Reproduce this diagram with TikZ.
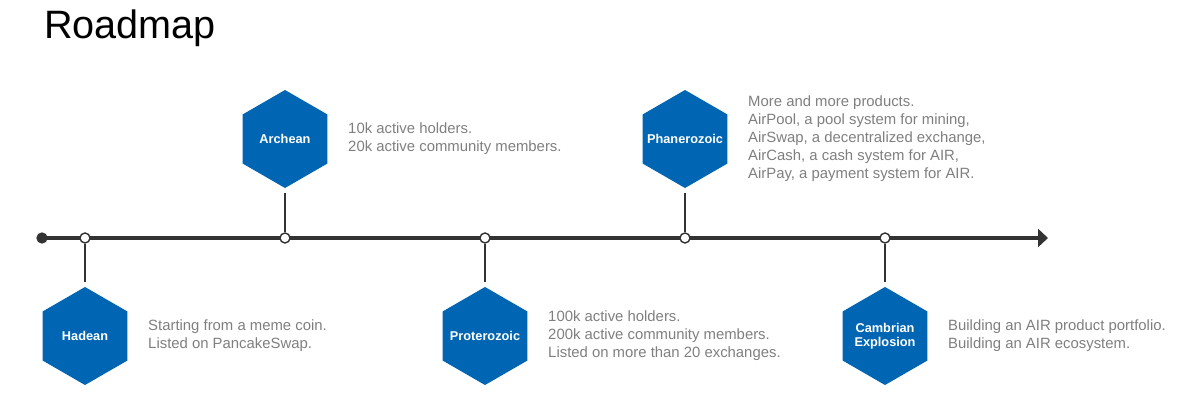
\documentclass[tikz,border=0pt]{standalone}
\usepackage{fontspec}
\setmainfont{Liberation Sans}
\usetikzlibrary{shapes.geometric,arrows.meta}
\definecolor{hexblue}{HTML}{0066B3}
\definecolor{txtgray}{HTML}{7F7F7F}
\definecolor{axisdark}{HTML}{333333}
\begin{document}
\begin{tikzpicture}[x=0.03cm, y=-0.03cm,
  hexnode/.style={regular polygon, regular polygon sides=6, shape border rotate=30,
    fill=hexblue, inner sep=0pt, minimum size=2.94cm,
    label={[hexlabel]center:#1}},
  hexlabel/.style={text=white, align=center, inner sep=0pt,
    font=\bfseries\fontsize{10.9}{11.9}\selectfont},
  desc/.style={anchor=west, inner sep=0pt, align=left, text=txtgray,
    font=\fontsize{12.7}{15.3}\selectfont},
  milestone/.style={circle, draw=axisdark, line width=1.2pt, fill=white,
    inner sep=0pt, minimum size=0.3cm},
  stem/.style={draw=axisdark, line width=1pt, shorten >=0.15cm}]
\useasboundingbox (0,0) rectangle (1183,400);
% Title
\node[anchor=base west, inner sep=0pt, font=\fontsize{33.8}{36}\selectfont] (title) at (44,39) {Roadmap};
% Time axis
\coordinate (start) at (42,238);
\coordinate (end) at (1048,238);
\draw[axisdark, line width=2.6pt, -{Triangle[length=0.3cm,width=0.54cm]}] (start) -- (end);
\node[circle, fill=axisdark, inner sep=0pt, minimum size=0.34cm] (origin) at (start) {};
% Milestones on the axis
\node[milestone] (m1) at (85,238) {};
\node[milestone] (m2) at (285,238) {};
\node[milestone] (m3) at (485,238) {};
\node[milestone] (m4) at (685,238) {};
\node[milestone] (m5) at (885,238) {};
% Eons
\node[hexnode=Hadean] (hadean) at (85,336) {};
\node[hexnode=Archean] (archean) at (285,139) {};
\node[hexnode=Proterozoic] (proterozoic) at (485,336) {};
\node[hexnode=Phanerozoic] (phanerozoic) at (685,139) {};
\node[hexnode={Cambrian\\Explosion}] (cambrian) at (885,336) {};
\draw[stem] (m1) -- (hadean.north);
\draw[stem] (m2) -- (archean.south);
\draw[stem] (m3) -- (proterozoic.north);
\draw[stem] (m4) -- (phanerozoic.south);
\draw[stem] (m5) -- (cambrian.north);
% Descriptions
\node[desc] (hadeantxt) at (148,336) {Starting from a meme coin.\\Listed on PancakeSwap.};
\node[desc] (archeantxt) at (348,139) {10k active holders.\\20k active community members.};
\node[desc] (proterozoictxt) at (548,336) {100k active holders.\\200k active community members.\\Listed on more than 20 exchanges.};
\node[desc] (phanerozoictxt) at (748,139) {More and more products.\\AirPool, a pool system for mining,\\AirSwap, a decentralized exchange,\\AirCash, a cash system for AIR,\\AirPay, a payment system for AIR.};
\node[desc] (cambriantxt) at (948,336) {Building an AIR product portfolio.\\Building an AIR ecosystem.};
\end{tikzpicture}
\end{document}
